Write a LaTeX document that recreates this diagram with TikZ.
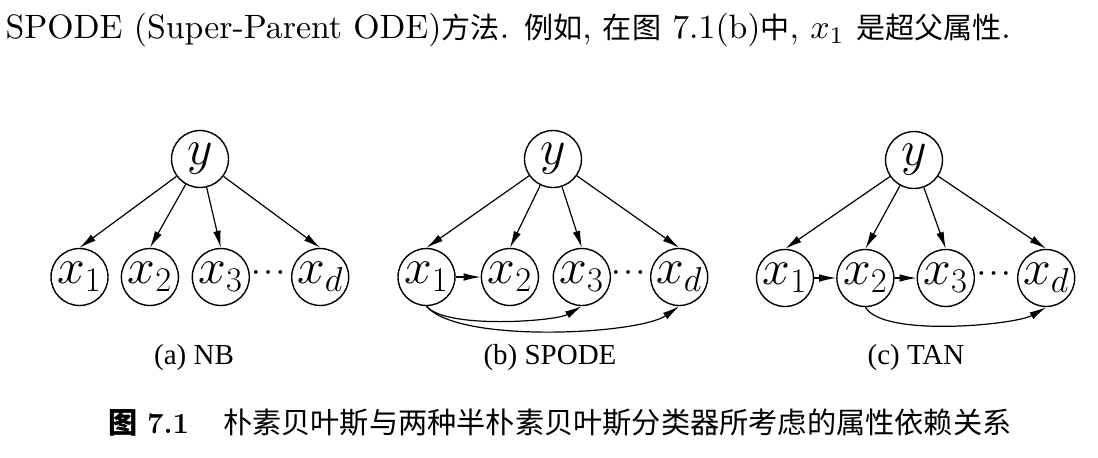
\documentclass[tikz,border=0pt]{standalone}
\usepackage{fontspec}
\usepackage{amsmath}
\usepackage{tikz}
\usetikzlibrary{positioning, arrows.meta}
\newfontfamily\cjk{Noto Sans CJK SC}
\newfontfamily\legfont{Liberation Serif}
\newcommand{\zh}[1]{{\cjk\fontsize{8.6}{10}\selectfont #1}}

\begin{document}
\begin{tikzpicture}[
    x=0.5pt, y=0.5pt,
    vertice/.style={draw, circle, line width=0.7pt, minimum size=28.5pt, inner sep=0pt, font=\fontsize{23}{23}\selectfont},
    seta/.style={-{Latex[length=8.5pt, width=3.8pt]}, line width=0.6pt},
    pontos/.style={font=\fontsize{13}{13}\selectfont\boldmath, inner sep=0pt, yshift=2pt},
    rot/.style={font=\legfont\fontsize{14.5}{16}\selectfont, anchor=base},
    texto/.style={font=\fontsize{10}{12}\selectfont, scale=1.69, anchor=base west, inner sep=0pt}
]
\useasboundingbox (0,0) rectangle (1098,-457);

% texto corrido acima da figura
\node[texto] (linha) at (5,-38) {SPODE (Super-Parent ODE)\zh{方法}. \zh{例如}, \zh{在图} 7.1(b)\zh{中}, $x_1$ \zh{是超父属性}.};

% (a) NB
\node[vertice] (ya) at (200,-159) {$y$};
\node[vertice] (a1) at (79.5,-277) {$x_1$};
\node[vertice, right=6pt of a1] (a2) {$x_2$};
\node[vertice, right=6.25pt of a2] (a3) {$x_3$};
\node[vertice, right=20.5pt of a3] (ad) {$x_d$};
\path (a3) -- node[pontos] {$\cdots$} (ad);
\foreach \n in {a1, a2, a3, ad}
    \draw[seta] (ya) -- (\n.north);
\node[rot] at (194,-364) {(a) NB};

% (b) SPODE
\node[vertice] (yb) at (553,-159) {$y$};
\node[vertice] (b1) at (426.5,-277) {$x_1$};
\node[vertice, right=12.5pt of b1] (b2) {$x_2$};
\node[vertice, right=6.75pt of b2] (b3) {$x_3$};
\node[vertice, right=19.5pt of b3] (bd) {$x_d$};
\path (b3) -- node[pontos] {$\cdots$} (bd);
\foreach \n in {b1, b2, b3, bd}
    \draw[seta] (yb) -- (\n.north);
\draw[seta] (b1) -- (b2);
\draw[seta] (b1.south) to[out=-50, in=-150, looseness=0.5] (b3.south);
\draw[seta] (b1.south) to[out=-50, in=-145, looseness=0.5] (bd.south);
\node[rot] at (550,-364) {(b) SPODE};

% (c) TAN
\node[vertice] (yc) at (914,-160) {$y$};
\node[vertice] (c1) at (785,-278) {$x_1$};
\node[vertice, right=11pt of c1] (c2) {$x_2$};
\node[vertice, right=11pt of c2] (c3) {$x_3$};
\node[vertice, right=21pt of c3] (cd) {$x_d$};
\path (c3) -- node[pontos] {$\cdots$} (cd);
\foreach \n in {c1, c2, c3, cd}
    \draw[seta] (yc) -- (\n.north);
\draw[seta] (c1) -- (c2);
\draw[seta] (c2) -- (c3);
\draw[seta] (c2.south) to[out=-60, in=-150, looseness=0.5] (cd.south);
\node[rot] at (916,-364) {(c) TAN};

% legenda da figura
\node[anchor=base west, inner sep=0pt, font=\fontsize{14.6}{16}\selectfont] (titulo) at (108,-433)
    {{\cjk\bfseries 图} \textbf{7.1}\hspace{17pt}{\cjk 朴素贝叶斯与两种半朴素贝叶斯分类器所考虑的属性依赖关系}};
\end{tikzpicture}
\end{document}
